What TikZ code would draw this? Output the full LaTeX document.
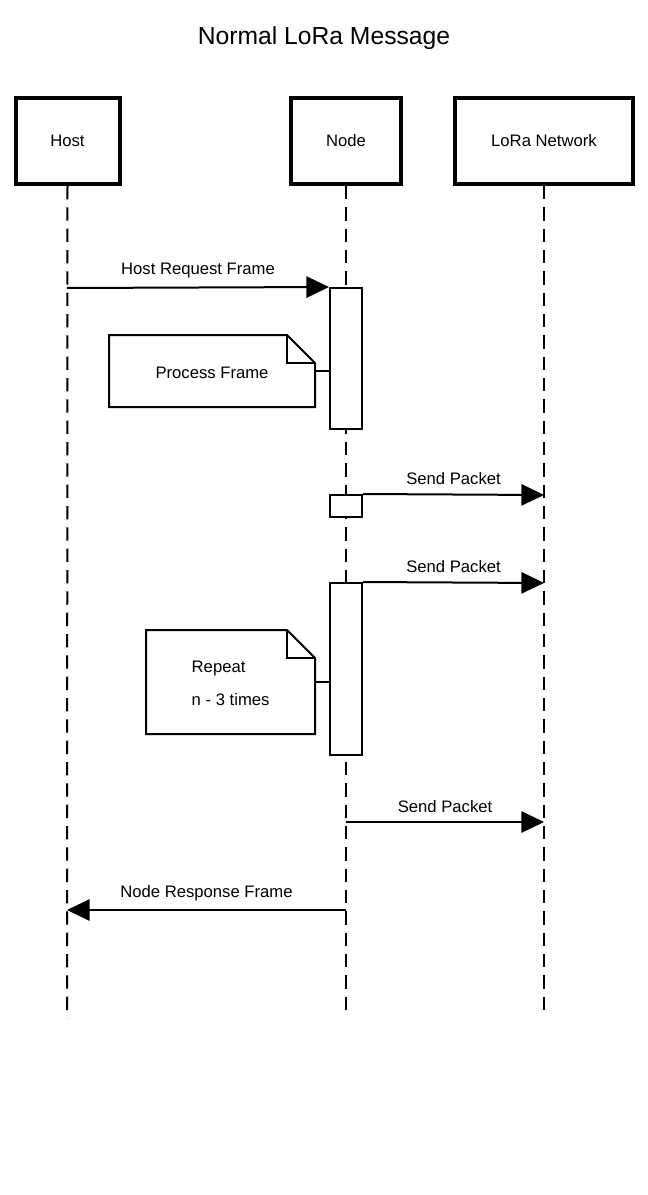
\documentclass[tikz,border=0pt]{standalone}
\usepackage{fontspec}
\setmainfont{Liberation Sans}
\usetikzlibrary{arrows.meta,positioning,calc}

\begin{document}
\begin{tikzpicture}[x=0.75pt,y=-0.75pt,
    actor/.style={rectangle, draw, line width=3pt, inner sep=0pt, font=\fontsize{12.5}{14}\selectfont},
    act/.style={rectangle, draw, line width=1.5pt, fill=white, inner sep=0pt, minimum width=24pt},
    life/.style={line width=1.5pt, dash pattern=on 10pt off 6pt},
    msg/.style={-{Triangle[length=17pt,width=16pt]}, line width=1.5pt},
    lbl/.style={font=\fontsize{12.5}{14}\selectfont, above=3pt},
    note/.style={draw, line width=1.5pt, fill=white}
]
\useasboundingbox (0,0) rectangle (648,1195);
\node[font=\fontsize{18.5}{22}\selectfont] (title) at (324,38) {Normal LoRa Message};

% actors
\node[actor, minimum width=78pt, minimum height=64.5pt] (host) at (67.5,141) {Host};
\node[actor, minimum width=82.5pt, minimum height=64.5pt] (node) at (346,141) {Node};
\node[actor, minimum width=133.5pt, minimum height=64.5pt] (lora) at (544,141) {LoRa Network};

% lifelines
\coordinate (hostend) at (67,1018);
\coordinate (nodeend) at (346,1018);
\coordinate (loraend) at (544,1018);
\draw[life] (host.south) -- (hostend);
\draw[life] (node.south) -- (nodeend);
\draw[life] (lora.south) -- (loraend);

% activations
\node[act, minimum height=105.75pt] (act1) at (346,358.5) {};
\node[act, minimum height=16.5pt] (act2) at (346,506) {};
\node[act, minimum height=129pt] (act3) at (346,669) {};

% messages
\coordinate (h1) at (67,288);
\draw[msg] (h1) -- (act1.north west) node[lbl, midway] {Host Request Frame};
\coordinate (l1) at (544,495);
\draw[msg] (act2.north east) -- (l1) node[lbl, midway] {Send Packet};
\coordinate (l2) at (544,583);
\draw[msg] (act3.north east) -- (l2) node[lbl, midway] {Send Packet};
\coordinate (n3) at (346,822);
\coordinate (l3) at (544,822);
\draw[msg] (n3) -- (l3) node[lbl, midway] {Send Packet};
\coordinate (n4) at (346,910);
\coordinate (h4) at (67,910);
\draw[msg] (n4) -- (h4) node[lbl, midway] {Node Response Frame};

% notes
\draw[note] (109,335) -- (287,335) -- (315,363) -- (315,407) -- (109,407) -- cycle;
\draw[line width=1.5pt] (287,335) -- (287,363) -- (315,363);
\node[font=\fontsize{12.5}{14}\selectfont] (note1) at (212,373) {Process Frame};
\coordinate (n1) at (315,371);
\draw[line width=1.5pt] (n1) -- (n1 -| act1.west);

\draw[note] (146,630) -- (287,630) -- (315,658) -- (315,734) -- (146,734) -- cycle;
\draw[line width=1.5pt] (287,630) -- (287,658) -- (315,658);
\node[font=\fontsize{12.5}{14}\selectfont, anchor=west] (note2a) at (187,668) {Repeat};
\node[font=\fontsize{12.5}{14}\selectfont, anchor=west] (note2b) at (187,700) {n - 3 times};
\coordinate (n2) at (315,682);
\draw[line width=1.5pt] (n2) -- (n2 -| act3.west);
\end{tikzpicture}
\end{document}
